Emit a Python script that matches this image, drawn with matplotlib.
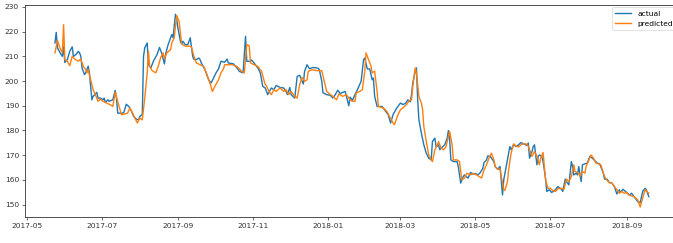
import matplotlib
matplotlib.use("Agg")
import matplotlib.pyplot as plt
import matplotlib.dates as mdates
import pandas as pd

start_date = "2017-05-01"

# actual series: days since start_date, value
actual_day = [23, 24, 25, 28, 29, 30, 31, 33, 35, 37, 38, 40, 42, 43, 44, 45, 47, 48, 50, 51,
              53, 54, 57, 58, 60, 62, 63, 64, 66, 67, 70, 72, 73, 74, 78, 79, 81, 83, 85, 87,
              89, 91, 92, 94, 95, 96, 98, 99, 101, 103, 106, 108, 110, 112, 113, 115, 118, 119, 121, 122,
              123, 125, 126, 127, 129, 131, 133, 135, 136, 138, 140, 141, 142, 145, 148, 150, 152, 154, 156, 158,
              161, 163, 164, 168, 171, 173, 176, 178, 179, 182, 183, 186, 188, 190, 192, 194, 196, 199, 201, 203,
              206, 209, 211, 212, 214, 215, 218, 220, 222, 225, 226, 228, 230, 233, 237, 238, 240, 241, 244, 247,
              249, 251, 253, 255, 257, 259, 262, 263, 265, 267, 269, 272, 274, 275, 277, 279, 281, 282, 283, 285,
              289, 291, 294, 296, 298, 301, 304, 306, 308, 310, 312, 313, 314, 316, 317, 318, 319, 321, 323, 325,
              327, 329, 330, 332, 333, 335, 336, 338, 340, 342, 343, 344, 345, 347, 350, 351, 352, 353, 355, 356,
              359, 361, 363, 365, 367, 369, 371, 372, 374, 375, 377, 380, 381, 383, 385, 387, 388, 390, 392, 393,
              394, 396, 398, 400, 402, 404, 407, 408, 409, 411, 412, 413, 415, 416, 417, 419, 420, 422, 423, 425,
              427, 430, 432, 435, 436, 438, 439, 441, 443, 444, 445, 447, 448, 449, 451, 452, 454, 456, 458, 460,
              462, 464, 466, 469, 470, 472, 474, 476, 478, 480, 482, 483, 485, 488, 490, 492, 493, 495, 497, 499,
              501, 503, 504, 506]
actual_val = [215.4, 219.7, 213.4, 210.7, 210.0, 214.0, 207.5, 208.7, 212.0, 213.8, 210.0, 210.7, 212.0, 211.4, 210.0, 205.3, 202.6, 203.3, 206.0, 203.3,
              192.4, 193.8, 195.4, 193.1, 193.1, 192.4, 193.1, 191.3, 192.4, 191.8, 192.4, 196.2, 193.1, 187.0, 187.0, 187.3, 190.6, 189.7, 188.0, 185.7,
              184.6, 184.3, 185.7, 186.4, 210.0, 213.4, 215.4, 206.6, 205.3, 208.0, 210.7, 213.6, 211.0, 206.9, 211.0, 214.7, 218.8, 217.5, 227.0, 225.0,
              221.5, 216.1, 215.0, 216.1, 214.7, 214.7, 217.5, 210.0, 208.7, 208.7, 209.3, 208.7, 207.3, 204.6, 200.5, 199.2, 201.2, 203.3, 204.9, 208.0,
              207.6, 208.9, 207.3, 207.0, 205.3, 203.9, 203.3, 218.1, 208.0, 208.0, 208.5, 206.6, 205.3, 203.3, 197.8, 197.2, 194.5, 197.2, 196.5, 198.2,
              197.4, 197.2, 195.8, 194.5, 197.4, 194.5, 193.1, 201.9, 202.3, 198.8, 203.9, 206.6, 205.0, 205.5, 205.2, 204.6, 199.9, 195.2, 194.5, 194.2,
              193.1, 194.5, 196.3, 194.9, 195.4, 195.8, 190.0, 193.5, 192.2, 194.5, 196.5, 199.9, 208.7, 209.3, 204.9, 204.9, 200.5, 201.2, 193.8, 189.7,
              189.7, 188.4, 186.4, 183.0, 186.4, 189.1, 191.1, 190.5, 190.9, 192.4, 191.6, 194.5, 199.2, 203.9, 205.3, 192.4, 184.3, 178.9, 174.2, 170.8,
              168.8, 168.1, 175.5, 176.9, 173.3, 174.2, 172.2, 173.3, 174.2, 176.9, 180.0, 176.2, 168.1, 167.4, 167.4, 165.5, 162.0, 158.7, 161.3, 162.0,
              160.7, 163.0, 162.3, 162.6, 162.0, 163.0, 164.7, 167.0, 168.1, 169.7, 169.5, 167.4, 165.4, 164.3, 165.4, 153.9, 160.0, 165.4, 170.8, 173.5,
              172.2, 174.2, 173.5, 174.2, 175.1, 174.6, 173.9, 174.9, 168.8, 171.5, 173.5, 174.2, 166.1, 169.5, 170.1, 169.5, 167.4, 160.7, 155.3, 156.0,
              154.9, 156.0, 157.3, 156.2, 155.3, 160.3, 159.3, 158.0, 167.4, 165.4, 162.0, 162.7, 162.0, 165.4, 159.3, 166.1, 166.5, 166.8, 169.5, 168.8,
              167.8, 166.8, 166.5, 162.7, 160.3, 160.3, 158.9, 158.7, 157.3, 154.3, 156.0, 154.9, 156.2, 154.9, 153.9, 154.6, 153.9, 152.6, 151.2, 150.8,
              155.3, 156.6, 156.0, 153.2]

# predicted series: days since start_date, value
pred_day = [23, 25, 27, 29, 30, 31, 33, 35, 37, 39, 42, 44, 46, 48, 49, 50, 52, 54, 57, 58,
            60, 62, 65, 68, 70, 72, 74, 77, 80, 82, 84, 86, 88, 90, 92, 94, 96, 98, 99, 100,
            102, 105, 107, 109, 111, 112, 114, 117, 118, 120, 122, 124, 126, 129, 132, 134, 136, 138, 141, 144,
            146, 149, 151, 153, 156, 158, 160, 161, 164, 167, 171, 175, 177, 179, 181, 182, 185, 188, 191, 194,
            195, 197, 199, 201, 203, 206, 209, 211, 213, 215, 218, 220, 222, 224, 226, 228, 229, 232, 236, 240,
            242, 244, 247, 249, 252, 254, 257, 260, 263, 265, 267, 268, 271, 273, 275, 276, 278, 280, 281, 283,
            285, 286, 290, 293, 295, 298, 299, 302, 304, 306, 309, 311, 313, 314, 316, 317, 319, 321, 322, 323,
            325, 327, 329, 330, 332, 334, 335, 337, 339, 341, 342, 344, 346, 347, 350, 352, 353, 354, 356, 358,
            361, 363, 366, 368, 370, 372, 374, 376, 378, 380, 381, 383, 385, 388, 389, 391, 392, 394, 396, 398,
            400, 402, 404, 406, 408, 410, 411, 413, 415, 417, 418, 420, 422, 424, 426, 427, 430, 432, 435, 437,
            439, 441, 443, 445, 446, 449, 450, 452, 454, 455, 457, 459, 461, 463, 465, 467, 469, 471, 474, 476,
            478, 480, 482, 484, 486, 488, 490, 492, 494, 497, 499, 501, 503, 506]
pred_val = [211.4, 216.5, 213.4, 211.4, 222.8, 208.7, 208.0, 206.2, 210.0, 208.9, 208.0, 208.9, 206.0, 204.6, 203.3, 204.6, 200.5, 196.5, 193.1, 191.8,
            192.7, 191.8, 191.1, 190.4, 189.7, 195.4, 191.8, 186.4, 186.7, 187.0, 189.1, 187.0, 185.0, 183.0, 185.0, 184.3, 193.1, 203.3, 212.0, 206.0,
            204.2, 203.3, 206.0, 209.6, 211.4, 209.0, 211.4, 212.7, 215.4, 217.5, 226.5, 224.0, 215.0, 214.1, 214.1, 213.8, 210.0, 207.3, 206.6, 205.9,
            203.3, 199.2, 195.8, 197.8, 200.5, 203.3, 204.9, 206.6, 206.6, 206.6, 205.9, 203.9, 203.3, 214.7, 214.3, 207.3, 206.6, 205.9, 203.9, 198.5,
            198.1, 195.8, 194.5, 196.5, 195.8, 197.2, 195.8, 196.5, 194.5, 195.8, 193.8, 193.1, 198.5, 201.5, 199.9, 200.5, 203.9, 204.6, 204.2, 204.2,
            199.9, 195.8, 194.5, 193.8, 192.4, 194.8, 193.8, 194.5, 192.4, 191.8, 191.8, 195.2, 195.8, 196.5, 204.0, 211.4, 208.7, 206.2, 203.3, 204.0,
            195.8, 189.7, 189.1, 187.7, 185.7, 183.0, 182.3, 186.4, 188.4, 189.1, 190.5, 192.0, 192.4, 197.8, 205.3, 203.3, 193.8, 191.1, 188.4, 181.6,
            175.5, 170.1, 168.1, 167.4, 172.2, 174.2, 175.5, 172.9, 172.2, 173.3, 175.5, 179.6, 174.2, 168.1, 168.1, 167.4, 163.4, 160.0, 160.7, 162.7,
            162.0, 162.7, 162.0, 161.3, 160.8, 164.1, 166.1, 168.8, 170.8, 168.1, 165.4, 164.3, 164.3, 156.0, 155.8, 159.3, 164.1, 170.8, 174.6, 173.7,
            173.3, 174.2, 174.6, 174.6, 173.7, 170.8, 169.5, 171.5, 169.5, 166.1, 168.8, 171.1, 160.0, 156.6, 156.6, 156.0, 155.3, 156.4, 156.6, 156.2,
            160.3, 159.3, 161.3, 166.1, 163.4, 162.7, 161.3, 163.4, 162.7, 165.4, 167.8, 170.1, 168.8, 166.8, 166.5, 166.1, 162.7, 160.3, 158.9, 158.7,
            157.3, 156.0, 154.6, 155.3, 154.6, 154.9, 153.9, 153.5, 153.2, 151.9, 149.0, 152.6, 156.0, 154.6]

labels = ["actual", "predicted"]
y_ticks = [150, 160, 170, 180, 190, 200, 210, 220, 230]

start = pd.Timestamp(start_date)
actual_dates = start + pd.to_timedelta(actual_day, unit="D")
pred_dates = start + pd.to_timedelta(pred_day, unit="D")

fs = 5.4
fig = plt.figure(figsize=(6.73, 2.43), dpi=100)
ax = fig.add_axes([25.3 / 673, 0.1082, 653.2 / 673, 0.8726])
ax.plot(actual_dates, actual_val, color="#1f77b4", lw=1.0, label=labels[0])
ax.plot(pred_dates, pred_val, color="#ff7f0e", lw=1.0, label=labels[1])

ax.xaxis.set_major_locator(mdates.MonthLocator(bymonth=[1, 3, 5, 7, 9, 11]))
ax.xaxis.set_major_formatter(mdates.DateFormatter("%Y-%m"))
ax.set_yticks(y_ticks)
ax.tick_params(labelsize=fs, length=2.5, width=0.5, colors="#333333", pad=2)
for s in ax.spines.values():
    s.set_linewidth(0.6)
    s.set_color("#333333")

leg = ax.legend(loc="upper right", fontsize=fs, borderaxespad=0.35, handlelength=2.2)
leg.get_frame().set_linewidth(0.5)

fig.savefig("out.png", dpi=100)
